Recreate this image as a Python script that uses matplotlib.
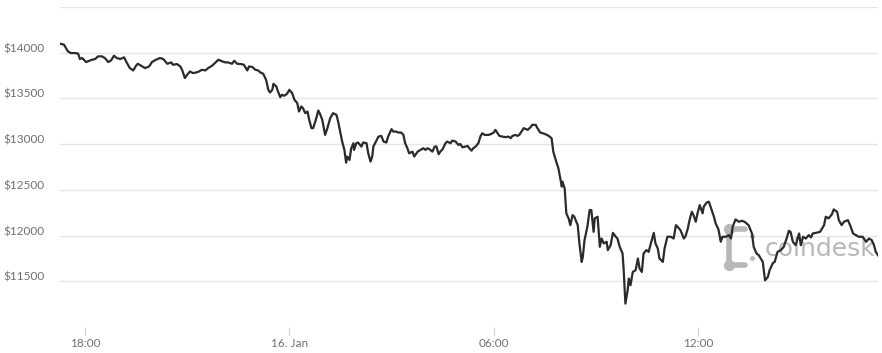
import numpy as np
import pandas as pd
from matplotlib import pyplot as plt
from matplotlib.transforms import ScaledTranslation

# minutes after 15 Jan 2018 17:00
minutes = [
    16, 23, 30, 35, 44, 48, 51, 55, 62, 65, 72, 78, 83, 90, 95, 101, 106, 111, 116, 122,
    129, 134, 139, 145, 150, 153, 161, 166, 173, 178, 185, 192, 198, 205, 212, 215, 222, 228, 231, 236,
    240, 245, 250, 256, 261, 266, 272, 277, 284, 289, 295, 302, 307, 312, 319, 323, 328, 335, 340, 346,
    349, 355, 360, 365, 369, 374, 379, 383, 386, 390, 392, 397, 400, 404, 407, 411, 416, 420, 425, 429,
    434, 437, 441, 444, 448, 452, 455, 459, 462, 467, 471, 474, 478, 483, 487, 492, 497, 503, 506, 513,
    517, 519, 520, 522, 526, 529, 533, 534, 538, 541, 547, 550, 556, 559, 563, 566, 568, 571, 577, 582,
    586, 591, 594, 600, 603, 608, 612, 617, 621, 624, 628, 631, 637, 640, 646, 651, 656, 660, 663, 667,
    672, 676, 679, 683, 686, 690, 695, 698, 704, 707, 713, 718, 721, 725, 730, 734, 737, 741, 744, 748,
    753, 757, 760, 764, 771, 776, 780, 783, 787, 790, 795, 801, 806, 810, 813, 818, 822, 825, 829, 833,
    840, 845, 848, 854, 857, 862, 870, 877, 882, 885, 891, 894, 900, 901, 905, 908, 912, 915, 919, 922,
    928, 931, 935, 937, 940, 945, 949, 952, 956, 958, 963, 967, 970, 974, 979, 981, 986, 990, 995, 998,
    1002, 1007, 1009, 1012, 1016, 1018, 1021, 1025, 1030, 1034, 1037, 1041, 1044, 1049, 1053, 1056, 1062, 1065, 1069, 1072,
    1078, 1081, 1086, 1092, 1097, 1101, 1104, 1109, 1115, 1118, 1122, 1125, 1129, 1132, 1136, 1139, 1143, 1148, 1150, 1155,
    1159, 1164, 1168, 1171, 1176, 1180, 1183, 1189, 1194, 1198, 1201, 1206, 1212, 1217, 1222, 1229, 1235, 1238, 1243, 1247,
    1254, 1258, 1263, 1266, 1272, 1275, 1280, 1286, 1291, 1296, 1300, 1303, 1307, 1312, 1318, 1321, 1325, 1330, 1335, 1339,
    1342, 1348, 1355, 1362, 1365, 1370, 1376, 1379, 1385, 1388, 1393, 1397, 1404, 1409, 1413, 1418, 1423, 1430, 1436, 1441,
    1446, 1450, 1453, 1457,
]
prices = [
    14099, 14088, 14014, 13996, 13996, 13989, 13931, 13942, 13898, 13905, 13923, 13931, 13960, 13960, 13942, 13898, 13916, 13967, 13942, 13931,
    13949, 13887, 13832, 13806, 13858, 13879, 13850, 13832, 13850, 13898, 13923, 13942, 13931, 13879, 13894, 13868, 13876, 13850, 13814, 13723,
    13759, 13795, 13777, 13784, 13795, 13814, 13806, 13832, 13858, 13887, 13923, 13905, 13894, 13894, 13879, 13912, 13879, 13876, 13868, 13806,
    13850, 13843, 13814, 13806, 13784, 13770, 13704, 13594, 13565, 13594, 13660, 13631, 13576, 13514, 13540, 13529, 13551, 13594, 13558, 13485,
    13449, 13357, 13412, 13394, 13339, 13357, 13266, 13175, 13175, 13273, 13368, 13331, 13266, 13101, 13175, 13284, 13339, 13320, 13247, 13030,
    12937, 12846, 12798, 12864, 12827, 12955, 13010, 12937, 13010, 13018, 12973, 13018, 13010, 12900, 12809, 12864, 12973, 13010, 13083, 13090,
    13028, 13018, 13083, 13164, 13138, 13138, 13127, 13127, 13101, 13010, 12955, 12900, 12918, 12864, 12918, 12937, 12955, 12937, 12955, 12944,
    12918, 12973, 12975, 12890, 12918, 12944, 13010, 13028, 13010, 13039, 13028, 12991, 13002, 12966, 12973, 12981, 12955, 12929, 12955, 12973,
    13010, 13090, 13119, 13101, 13101, 13112, 13127, 13156, 13119, 13090, 13083, 13076, 13083, 13065, 13090, 13101, 13090, 13101, 13138, 13175,
    13156, 13186, 13211, 13211, 13175, 13127, 13112, 13090, 13065, 12918, 12791, 12736, 12535, 12590, 12517, 12242, 12188, 12114, 12224, 12206,
    12114, 11914, 11712, 11767, 11950, 12096, 12279, 12279, 12041, 12188, 12206, 11877, 11968, 11914, 11932, 11841, 11895, 12030, 11987, 11968,
    11877, 11804, 11621, 11256, 11402, 11530, 11457, 11602, 11621, 11749, 11640, 11602, 11804, 11841, 11822, 11895, 12030, 11914, 11859, 11749,
    11712, 11859, 11987, 11987, 11968, 12114, 12096, 12059, 11968, 11993, 12078, 12169, 12260, 12224, 12151, 12243, 12333, 12243, 12316, 12360,
    12371, 12279, 12206, 12133, 12067, 11932, 11987, 11987, 12005, 11968, 12096, 12177, 12151, 12162, 12151, 12114, 12023, 11877, 11804, 11785,
    11712, 11510, 11548, 11621, 11701, 11712, 11822, 11841, 11877, 11968, 12052, 12041, 11932, 11895, 12023, 11895, 11987, 11968, 12005, 11980,
    12023, 12030, 12041, 12114, 12206, 12188, 12235, 12286, 12260, 12169, 12114, 12151, 12169, 12096, 12023, 12005, 11987, 11987, 11932, 11968,
    11950, 11895, 11822, 11785,
]

tick_times = ['2018-01-15 18:00', '2018-01-16 00:00', '2018-01-16 06:00', '2018-01-16 12:00']
tick_labels = ['18:00', '16. Jan', '06:00', '12:00']
price_ticks = [11500, 12000, 12500, 13000, 13500, 14000]
grid_levels = [11500, 12000, 12500, 13000, 13500, 14000, 14500]

start = pd.Timestamp('2018-01-15 17:00')
times = start + pd.to_timedelta(minutes, unit='min')

plt.rcParams['font.family'] = ['Lato', 'DejaVu Sans']

fig = plt.figure(figsize=(8.82, 3.53), dpi=100)
ax = fig.add_axes([60 / 882, 26 / 353, 818 / 882, 320 / 353])

for g in grid_levels:
    ax.axhline(g, color='#e6e6e6', lw=1, zorder=0)

# watermark
wm = '#b8b8b8'
ax.text(0.861, 0.245, 'coindesk', transform=ax.transAxes, fontsize=18,
        family='DejaVu Sans', color=wm, va='center', ha='left', zorder=1, clip_on=True)
ax.plot([0.838, 0.818, 0.818, 0.838], [0.305, 0.305, 0.195, 0.195], transform=ax.transAxes,
        color=wm, lw=4, solid_capstyle='round', solid_joinstyle='round', zorder=1)
ax.plot([0.818, 0.818], [0.305, 0.195], 'o', transform=ax.transAxes,
        color=wm, ms=7, zorder=1)
ax.plot([0.846, 0.846], [0.215, 0.285], 'o', transform=ax.transAxes,
        color=wm, ms=2.5, zorder=1)

ax.plot(times, prices, color='#2b2b2b', lw=1.6, zorder=3, solid_joinstyle='round')

ax.set_xlim(times[0], times[-1])
ax.set_ylim(11000, 14500)

ax.set_xticks(pd.to_datetime(tick_times))
ax.set_xticklabels(tick_labels)
ax.set_yticks(price_ticks)
ax.set_yticklabels(['$' + str(p) for p in price_ticks])

for s in ax.spines.values():
    s.set_visible(False)

ax.tick_params(axis='x', direction='out', length=6, width=0.8, color='#d0d0d0',
               labelsize=8.5, labelcolor='#707070', pad=2)
ax.tick_params(axis='y', length=0, labelsize=8.5, labelcolor='#707070', pad=11)

off = ScaledTranslation(0, 5 / 100, fig.dpi_scale_trans)
for lab in ax.get_yticklabels():
    lab.set_transform(lab.get_transform() + off)

fig.savefig('out.png', dpi=100)
